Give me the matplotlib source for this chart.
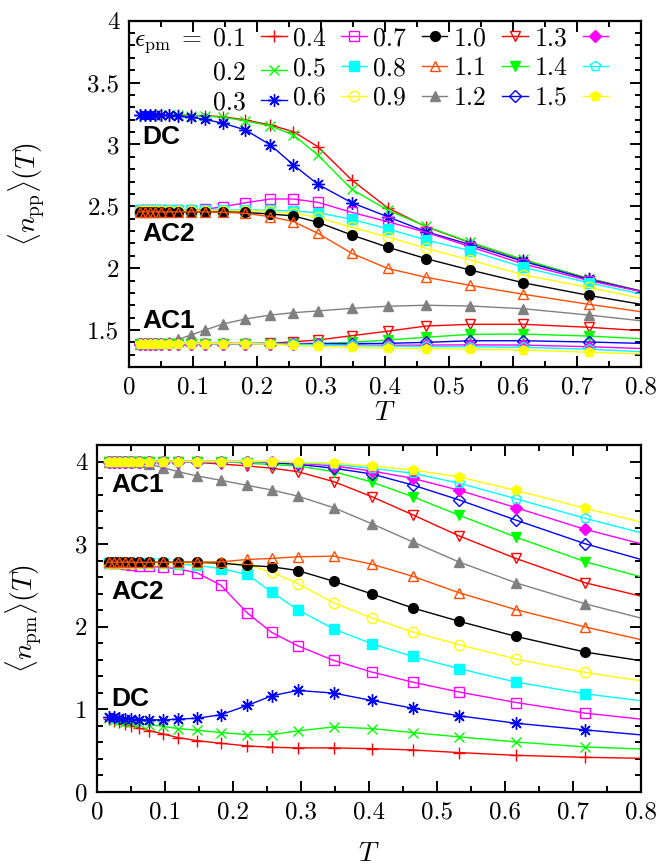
import numpy as np
import matplotlib
matplotlib.use("Agg")
import matplotlib.pyplot as plt
from matplotlib.ticker import MultipleLocator, FuncFormatter

plt.rcParams['font.family'] = 'serif'
plt.rcParams['font.serif'] = ['cmr10', 'DejaVu Serif']
plt.rcParams['mathtext.fontset'] = 'cm'
plt.rcParams['axes.formatter.use_mathtext'] = True

# Temperatures (same grid for every curve, last point lies outside the axes)
T = [0.017, 0.025, 0.033, 0.041, 0.050, 0.0625, 0.077, 0.097, 0.119, 0.147,
     0.182, 0.221, 0.257, 0.295, 0.348, 0.404, 0.464, 0.533, 0.616, 0.718, 0.835]

eps_pm = ['0.1', '0.2', '0.3', '0.4', '0.5', '0.6', '0.7', '0.8',
          '0.9', '1.0', '1.1', '1.2', '1.3', '1.4', '1.5']

# <n_pp>(T), top panel
npp_01 = [3.24, 3.24, 3.24, 3.24, 3.24, 3.24, 3.238, 3.235, 3.232, 3.224, 3.198,
          3.157, 3.103, 2.982, 2.713, 2.488, 2.335, 2.206, 2.066, 1.918, 1.771]
npp_02 = [3.24, 3.24, 3.24, 3.24, 3.24, 3.24, 3.237, 3.234, 3.229, 3.220, 3.190,
          3.150, 3.076, 2.915, 2.637, 2.470, 2.338, 2.210, 2.070, 1.915, 1.772]
npp_03 = [3.24, 3.24, 3.24, 3.24, 3.238, 3.235, 3.23, 3.22, 3.203, 3.171, 3.117,
          2.996, 2.834, 2.678, 2.529, 2.416, 2.295, 2.190, 2.055, 1.910, 1.772]
npp_04 = [2.47, 2.47, 2.47, 2.47, 2.47, 2.47, 2.47, 2.472, 2.476, 2.497, 2.529,
          2.559, 2.559, 2.532, 2.451, 2.376, 2.290, 2.173, 2.034, 1.900, 1.772]
npp_05 = [2.47, 2.47, 2.47, 2.47, 2.47, 2.47, 2.47, 2.47, 2.47, 2.47, 2.47,
          2.468, 2.462, 2.448, 2.395, 2.318, 2.228, 2.141, 2.007, 1.882, 1.752]
npp_06 = [2.465, 2.465, 2.465, 2.465, 2.465, 2.465, 2.465, 2.465, 2.465, 2.465, 2.465,
          2.458, 2.443, 2.411, 2.330, 2.252, 2.160, 2.066, 1.945, 1.845, 1.718]
npp_07 = [2.455, 2.455, 2.455, 2.455, 2.455, 2.455, 2.455, 2.455, 2.455, 2.455, 2.450,
          2.438, 2.422, 2.371, 2.268, 2.170, 2.077, 1.985, 1.882, 1.780, 1.677]
npp_08 = [2.455, 2.455, 2.455, 2.455, 2.455, 2.455, 2.455, 2.455, 2.455, 2.452, 2.443,
          2.416, 2.376, 2.282, 2.120, 1.998, 1.926, 1.861, 1.789, 1.708, 1.622]
npp_09 = [1.39, 1.39, 1.39, 1.39, 1.392, 1.40, 1.425, 1.46, 1.50, 1.549, 1.589,
          1.621, 1.640, 1.654, 1.675, 1.692, 1.700, 1.694, 1.672, 1.621, 1.555]
npp_10 = [1.39, 1.39, 1.39, 1.39, 1.39, 1.39, 1.39, 1.39, 1.39, 1.39, 1.39,
          1.393, 1.405, 1.419, 1.454, 1.490, 1.532, 1.546, 1.546, 1.522, 1.483]
npp_11 = [1.39, 1.39, 1.39, 1.39, 1.39, 1.39, 1.39, 1.39, 1.39, 1.39, 1.39,
          1.39, 1.39, 1.392, 1.400, 1.419, 1.441, 1.465, 1.467, 1.451, 1.421]
npp_12 = [1.39, 1.39, 1.39, 1.39, 1.39, 1.39, 1.39, 1.39, 1.39, 1.39, 1.39,
          1.39, 1.39, 1.39, 1.390, 1.392, 1.400, 1.413, 1.413, 1.403, 1.387]
npp_13 = [1.39, 1.39, 1.39, 1.39, 1.39, 1.39, 1.39, 1.39, 1.39, 1.39, 1.39,
          1.39, 1.387, 1.383, 1.380, 1.376, 1.378, 1.380, 1.378, 1.365, 1.344]
npp_14 = [1.39, 1.39, 1.39, 1.39, 1.39, 1.39, 1.39, 1.39, 1.39, 1.39, 1.39,
          1.39, 1.385, 1.380, 1.375, 1.370, 1.367, 1.365, 1.360, 1.345, 1.316]
npp_15 = [1.39, 1.39, 1.39, 1.39, 1.39, 1.39, 1.39, 1.39, 1.39, 1.39, 1.39,
          1.385, 1.375, 1.367, 1.360, 1.352, 1.350, 1.344, 1.338, 1.320, 1.300]

# <n_pm>(T), bottom panel
npm_01 = [0.88, 0.86, 0.84, 0.82, 0.80, 0.77, 0.74, 0.70, 0.656, 0.619, 0.587,
          0.555, 0.539, 0.531, 0.531, 0.522, 0.506, 0.474, 0.441, 0.417, 0.400]
npm_02 = [0.89, 0.87, 0.86, 0.85, 0.84, 0.83, 0.81, 0.793, 0.765, 0.745, 0.717,
          0.692, 0.692, 0.737, 0.785, 0.765, 0.717, 0.664, 0.603, 0.542, 0.508]
npm_03 = [0.91, 0.90, 0.89, 0.885, 0.879, 0.871, 0.871, 0.871, 0.879, 0.891, 0.932,
          1.045, 1.162, 1.227, 1.195, 1.106, 1.012, 0.919, 0.830, 0.749, 0.663]
npm_04 = [2.77, 2.77, 2.765, 2.76, 2.75, 2.74, 2.73, 2.72, 2.70, 2.652, 2.502,
          2.166, 1.930, 1.769, 1.591, 1.450, 1.328, 1.207, 1.081, 0.952, 0.848]
npm_05 = [2.77, 2.77, 2.77, 2.77, 2.77, 2.77, 2.77, 2.77, 2.76, 2.741, 2.704,
          2.632, 2.417, 2.206, 1.972, 1.793, 1.639, 1.490, 1.328, 1.186, 1.065]
npm_06 = [2.77, 2.77, 2.77, 2.77, 2.77, 2.77, 2.77, 2.77, 2.77, 2.77, 2.77,
          2.75, 2.66, 2.522, 2.288, 2.105, 1.936, 1.781, 1.607, 1.445, 1.301]
npm_07 = [2.78, 2.78, 2.78, 2.78, 2.78, 2.78, 2.78, 2.78, 2.78, 2.78, 2.77,
          2.741, 2.725, 2.680, 2.550, 2.397, 2.227, 2.064, 1.882, 1.692, 1.542]
npm_08 = [2.78, 2.78, 2.78, 2.78, 2.78, 2.78, 2.78, 2.78, 2.78, 2.78, 2.785,
          2.814, 2.826, 2.846, 2.854, 2.757, 2.611, 2.409, 2.206, 1.996, 1.776]
npm_09 = [4.0, 4.0, 4.0, 4.0, 4.0, 3.99, 3.97, 3.927, 3.878, 3.826, 3.773,
          3.712, 3.655, 3.582, 3.441, 3.247, 3.028, 2.781, 2.531, 2.276, 2.03]
npm_10 = [4.0, 4.0, 4.0, 4.0, 4.0, 4.0, 4.0, 4.0, 4.0, 3.99, 3.97,
          3.947, 3.919, 3.878, 3.757, 3.575, 3.356, 3.097, 2.826, 2.531, 2.30]
npm_11 = [4.0, 4.0, 4.0, 4.0, 4.0, 4.0, 4.0, 4.0, 4.0, 4.0, 4.0,
          3.98, 3.963, 3.947, 3.878, 3.752, 3.575, 3.348, 3.085, 2.786, 2.525]
npm_12 = [4.0, 4.0, 4.0, 4.0, 4.0, 4.0, 4.0, 4.0, 4.0, 4.0, 4.0,
          4.0, 3.985, 3.967, 3.919, 3.850, 3.716, 3.534, 3.291, 3.004, 2.733]
npm_13 = [4.0, 4.0, 4.0, 4.0, 4.0, 4.0, 4.0, 4.0, 4.0, 4.0, 4.0,
          4.0, 4.0, 3.98, 3.947, 3.886, 3.797, 3.651, 3.441, 3.178, 2.930]
npm_14 = [4.0, 4.0, 4.0, 4.0, 4.0, 4.0, 4.0, 4.0, 4.0, 4.0, 4.0,
          4.0, 4.0, 3.985, 3.967, 3.919, 3.858, 3.737, 3.550, 3.311, 3.064]
npm_15 = [4.0, 4.0, 4.0, 4.0, 4.0, 4.0, 4.0, 4.0, 4.0, 4.0, 4.0,
          4.0, 4.0, 3.99, 3.98, 3.947, 3.898, 3.813, 3.651, 3.433, 3.196]

npp_all = [npp_01, npp_02, npp_03, npp_04, npp_05, npp_06, npp_07, npp_08,
           npp_09, npp_10, npp_11, npp_12, npp_13, npp_14, npp_15]
npm_all = [npm_01, npm_02, npm_03, npm_04, npm_05, npm_06, npm_07, npm_08,
           npm_09, npm_10, npm_11, npm_12, npm_13, npm_14, npm_15]

# gnuplot-like colors and point types 1..15
colors = ['#ff0000', '#00ff00', '#0000ff', '#ff00ff', '#00ffff', '#ffff00',
          '#000000', '#ff4d00', '#808080', '#ff0000', '#00ff00', '#0000ff',
          '#ff00ff', '#00ffff', '#ffff00']
markers = ['+', 'x', (8, 2, 0), 's', 's', 'o', 'o', '^', '^', 'v', 'v',
           'D', 'D', 'p', 'p']
filled = [True, True, True, False, True, False, True, False, True, False, True,
          False, True, False, True]
msizes = [8, 7, 9, 7, 7, 7.5, 7, 7.5, 7.5, 7.5, 7.5, 6, 6, 7.5, 7.5]


def draw_curves(ax, data, with_labels=False):
    for i, y in enumerate(data):
        if with_labels:
            label = r'$\epsilon_{\rm pm}\;=\;0.1$' if i == 0 else eps_pm[i]
        else:
            label = None
        ax.plot(T, y, color=colors[i], marker=markers[i], markersize=msizes[i],
                markerfacecolor=colors[i] if filled[i] else 'none',
                markeredgecolor=colors[i], markeredgewidth=1.0,
                linewidth=1.0, label=label)


def style_axes(ax, ymajor, yminor):
    fmt = FuncFormatter(lambda v, p: '%g' % v)
    ax.xaxis.set_major_locator(MultipleLocator(0.1))
    ax.xaxis.set_minor_locator(MultipleLocator(0.05))
    ax.yaxis.set_major_locator(MultipleLocator(ymajor))
    ax.yaxis.set_minor_locator(MultipleLocator(yminor))
    ax.xaxis.set_major_formatter(fmt)
    ax.yaxis.set_major_formatter(fmt)
    ax.tick_params(which='both', direction='in', top=True, right=True,
                   width=1.4, labelsize=18)
    ax.tick_params(which='major', length=8, pad=7)
    ax.tick_params(which='minor', length=4)
    for s in ax.spines.values():
        s.set_linewidth(1.6)


fig = plt.figure(figsize=(6.63, 8.65), dpi=100)
lab_font = dict(fontfamily='Liberation Sans', fontweight='bold', fontsize=19,
                va='center', ha='left')

# Top panel
ax1 = fig.add_axes([0.1946, 0.5756, 0.7722, 0.4004])
draw_curves(ax1, npp_all, with_labels=True)
ax1.set_xlim(0, 0.8)
ax1.set_ylim(1.2, 4.0)
style_axes(ax1, 0.5, 0.1)
ax1.set_xlabel(r'$T$', fontsize=20)
ax1.set_ylabel(r'$\langle n_{\rm pp}\rangle(T)$', fontsize=20)
ax1.yaxis.set_label_coords(-0.16, 0.5)
ax1.xaxis.set_label_coords(0.5, -0.095)
ax1.legend(loc='upper left', bbox_to_anchor=(0.0, 1.0), ncol=5,
           markerfirst=False, frameon=False, fontsize=18.5,
           handlelength=1.0, handletextpad=0.6, columnspacing=0.25,
           labelspacing=0.23, borderpad=0.1, borderaxespad=0.1)
ax1.text(0.021, 3.06, 'DC', **lab_font)
ax1.text(0.021, 2.276, 'AC2', **lab_font)
ax1.text(0.021, 1.573, 'AC1', **lab_font)

# Bottom panel
ax2 = fig.add_axes([0.1463, 0.0847, 0.8205, 0.4008])
draw_curves(ax2, npm_all)
ax2.set_xlim(0, 0.8)
ax2.set_ylim(0, 4.2)
style_axes(ax2, 1.0, 0.2)
ax2.set_xlabel(r'$T$', fontsize=20)
ax2.set_ylabel(r'$\langle n_{\rm pm}\rangle(T)$', fontsize=20)
ax2.yaxis.set_label_coords(-0.097, 0.5)
ax2.xaxis.set_label_coords(0.5, -0.14)
ax2.text(0.021, 3.72, 'AC1', **lab_font)
ax2.text(0.021, 2.425, 'AC2', **lab_font)
ax2.text(0.021, 1.125, 'DC', **lab_font)

plt.savefig('out.png', dpi=100)
